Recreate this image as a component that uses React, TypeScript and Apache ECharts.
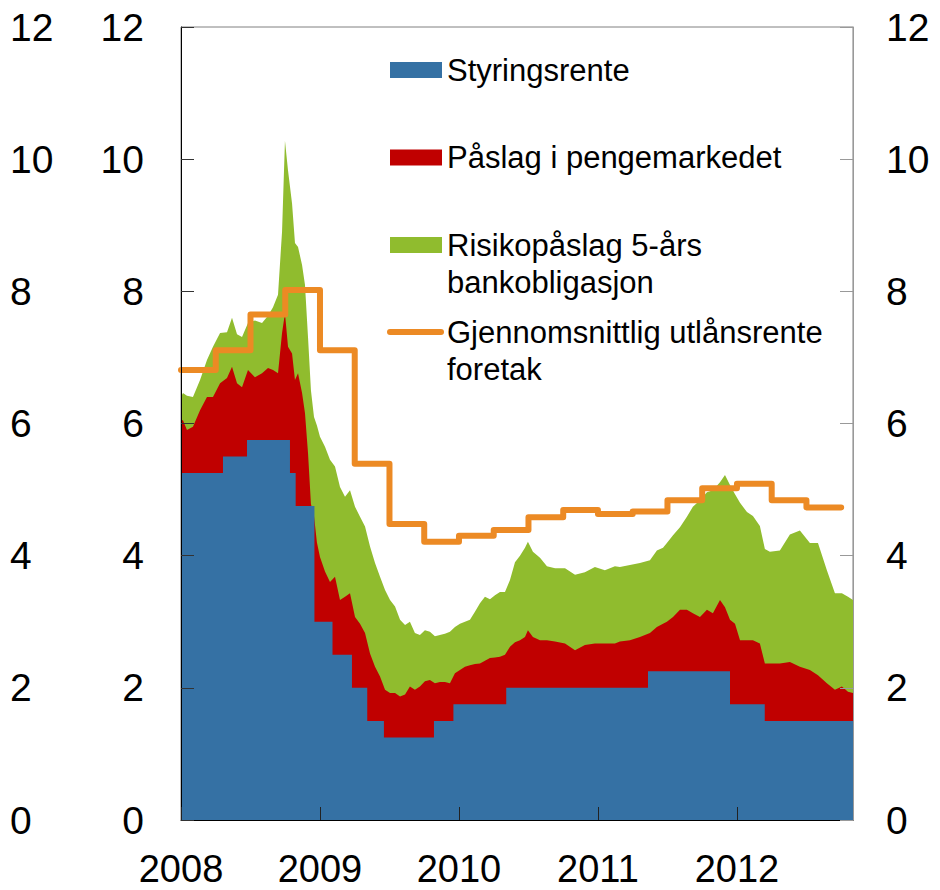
import React, { useEffect, useRef } from "react";
import * as echarts from "echarts";

// Decimal-year dates for the market-rate series
const dates = [
  2008.0, 2008.014, 2008.043, 2008.086, 2008.137, 2008.187, 2008.23, 2008.281, 2008.331, 2008.367,
  2008.403, 2008.439, 2008.482, 2008.532, 2008.583, 2008.626, 2008.662, 2008.698, 2008.727, 2008.748,
  2008.77, 2008.799, 2008.82, 2008.842, 2008.871, 2008.892, 2008.914, 2008.935, 2008.957, 2008.978,
  2009.0, 2009.036, 2009.072, 2009.108, 2009.144, 2009.18, 2009.216, 2009.252, 2009.288, 2009.324,
  2009.36, 2009.396, 2009.432, 2009.468, 2009.504, 2009.54, 2009.576, 2009.612, 2009.647, 2009.683,
  2009.719, 2009.755, 2009.791, 2009.827, 2009.863, 2009.899, 2009.935, 2009.971, 2010.007, 2010.043,
  2010.079, 2010.115, 2010.151, 2010.187, 2010.223, 2010.259, 2010.295, 2010.331, 2010.367, 2010.403,
  2010.439, 2010.475, 2010.496, 2010.532, 2010.583, 2010.633, 2010.691, 2010.763, 2010.835, 2010.906,
  2010.978, 2011.05, 2011.122, 2011.158, 2011.23, 2011.302, 2011.374, 2011.424, 2011.468, 2011.496,
  2011.54, 2011.59, 2011.64, 2011.683, 2011.734, 2011.784, 2011.827, 2011.878, 2011.914, 2011.95,
  2011.986, 2012.022, 2012.072, 2012.115, 2012.165, 2012.201, 2012.237, 2012.309, 2012.381, 2012.453,
  2012.525, 2012.583, 2012.647, 2012.705, 2012.755, 2012.799, 2012.835,
];

// Top of the green area (policy rate + money market premium + 5y bank bond premium)
const bondYield = [
  6.4, 6.46, 6.42, 6.4, 6.66, 6.96, 7.16, 7.37, 7.38, 7.6,
  7.35, 7.31, 7.52, 7.56, 7.52, 7.63, 7.76, 7.95, 8.9, 10.28,
  9.83, 9.33, 8.73, 8.67, 8.4, 8.1, 7.3, 6.5, 6.1, 5.97,
  5.8, 5.65, 5.45, 5.35, 5.04, 4.89, 4.99, 4.74, 4.59, 4.44,
  4.14, 3.89, 3.68, 3.48, 3.33, 3.23, 3.03, 2.95, 3.0, 2.83,
  2.8, 2.87, 2.85, 2.78, 2.8, 2.82, 2.85, 2.92, 2.97, 3.0,
  3.03, 3.15, 3.28, 3.38, 3.34, 3.4, 3.45, 3.45, 3.63, 3.9,
  4.0, 4.12, 4.21, 4.06, 3.97, 3.84, 3.81, 3.81, 3.71, 3.75,
  3.83, 3.78, 3.84, 3.83, 3.86, 3.89, 3.93, 4.08, 4.12, 4.19,
  4.31, 4.43, 4.59, 4.74, 4.84, 4.96, 4.99, 5.11, 5.22, 5.07,
  4.93, 4.8, 4.66, 4.6, 4.45, 4.1, 4.06, 4.08, 4.32, 4.38,
  4.19, 4.19, 3.78, 3.43, 3.43, 3.38, 3.33,
];

// Top of the red area (policy rate + money market premium)
const moneyMarketRate = [
  6.05, 6.05, 5.9, 5.95, 6.2, 6.4, 6.4, 6.61, 6.69, 6.86,
  6.61, 6.55, 6.81, 6.7, 6.76, 6.84, 6.81, 6.76, 7.37, 7.67,
  7.16, 7.06, 6.66, 6.76, 6.46, 6.16, 5.55, 4.78, 4.6, 4.2,
  3.98, 3.76, 3.6, 3.68, 3.33, 3.38, 3.43, 3.07, 2.97, 2.83,
  2.52, 2.32, 2.17, 1.97, 1.92, 1.92, 1.87, 1.9, 2.02, 1.97,
  2.02, 2.1, 2.12, 2.07, 2.09, 2.09, 2.07, 2.22, 2.27, 2.32,
  2.34, 2.36, 2.37, 2.41, 2.45, 2.46, 2.47, 2.5, 2.62, 2.69,
  2.72, 2.77, 2.87, 2.77, 2.72, 2.72, 2.7, 2.67, 2.57, 2.65,
  2.67, 2.67, 2.67, 2.7, 2.72, 2.77, 2.83, 2.92, 2.97, 3.0,
  3.07, 3.18, 3.18, 3.13, 3.07, 3.18, 3.13, 3.33, 3.22, 3.03,
  2.97, 2.72, 2.72, 2.72, 2.67, 2.37, 2.37, 2.37, 2.39, 2.32,
  2.27, 2.19, 2.07, 1.97, 2.02, 1.94, 1.92,
];

// Policy rate (step changes)
const policyDates = [
  2008.0, 2008.302, 2008.475, 2008.784, 2008.825, 2008.96, 2009.09, 2009.23, 2009.34,
  2009.46, 2009.82, 2009.96, 2010.34, 2011.36, 2011.95, 2012.2, 2012.835,
];
const policyRate = [
  5.25, 5.5, 5.75, 5.25, 4.75, 3.0, 2.5, 2.0, 1.5,
  1.25, 1.5, 1.75, 2.0, 2.25, 1.75, 1.5, 1.5,
];

// Average lending rate to enterprises (quarterly)
const lendingDates = [
  2008.0, 2008.25, 2008.5, 2008.75, 2009.0, 2009.25, 2009.5, 2009.75, 2010.0, 2010.25,
  2010.5, 2010.75, 2011.0, 2011.25, 2011.5, 2011.75, 2012.0, 2012.25, 2012.5, 2012.75,
];
const lendingRate = [
  6.81, 7.11, 7.65, 8.02, 7.11, 5.39, 4.48, 4.21, 4.3, 4.39,
  4.58, 4.69, 4.63, 4.67, 4.84, 5.02, 5.09, 4.84, 4.73, 4.73,
];

const yearTicks = ["2008", "2009", "2010", "2011", "2012"];

const BLUE = "#3571A4";
const RED = "#C00000";
const GREEN = "#90BC2E";
const ORANGE = "#EC8A24";
const FONT = "'Liberation Sans', Arial, sans-serif";

const legendItems = [
  { name: "Styringsrente", lines: ["Styringsrente"], color: BLUE, kind: "rect", cy: 70 },
  { name: "Påslag i pengemarkedet", lines: ["Påslag i pengemarkedet"], color: RED, kind: "rect", cy: 157.5 },
  { name: "Risikopåslag 5-års bankobligasjon", lines: ["Risikopåslag 5-års", "bankobligasjon"], color: GREEN, kind: "rect", cy: 245 },
  { name: "Gjennomsnittlig utlånsrente foretak", lines: ["Gjennomsnittlig utlånsrente", "foretak"], color: ORANGE, kind: "line", cy: 332 },
];

export default function App() {
  const ref = useRef<HTMLDivElement>(null);

  useEffect(() => {
    if (!ref.current) return;
    const chart = echarts.init(ref.current, undefined, { renderer: "svg" });

    const graphics: any[] = [];
    legendItems.forEach((it) => {
      if (it.kind === "rect") {
        graphics.push({
          type: "rect",
          shape: { x: 390, y: it.cy - 8, width: 52, height: 16 },
          style: { fill: it.color },
        });
      } else {
        graphics.push({
          type: "line",
          shape: { x1: 390, y1: it.cy, x2: 441, y2: it.cy },
          style: { stroke: it.color, lineWidth: 6, lineCap: "round" },
        });
      }
      it.lines.forEach((ln, k) => {
        graphics.push({
          type: "text",
          x: 447,
          y: it.cy + k * 37,
          style: {
            text: ln,
            fontSize: 31,
            fontFamily: FONT,
            fill: "#000",
            align: "left",
            verticalAlign: "middle",
          },
        });
      });
    });

    const labelBase = { fontSize: 39, fontFamily: FONT, color: "#000" };

    chart.setOption({
      animation: false,
      grid: {
        left: 181,
        right: 87,
        top: 27,
        bottom: 70,
        show: true,
        borderColor: "#808080",
        borderWidth: 1,
        backgroundColor: "transparent",
      },
      xAxis: {
        type: "value",
        min: 2008,
        max: 2012.835,
        interval: 1,
        z: 5,
        axisLine: { lineStyle: { color: "#000", width: 1 } },
        axisTick: { inside: true, length: 13, lineStyle: { color: "#222" } },
        splitLine: { show: false },
        axisLabel: {
          ...labelBase,
          fontSize: 38,
          margin: 30,
          showMaxLabel: false,
          formatter: (v: number) => {
            const s = String(Math.round(v));
            return Math.abs(v - Math.round(v)) < 1e-6 && yearTicks.includes(s) ? s : "";
          },
        },
      },
      yAxis: [
        {
          type: "value",
          min: 0,
          max: 12,
          interval: 2,
          position: "left",
          z: 5,
          axisLine: { show: true, lineStyle: { color: "#000", width: 1 } },
          axisTick: { show: true, inside: true, length: 13, lineStyle: { color: "#333" } },
          splitLine: { show: false },
          axisLabel: { ...labelBase, margin: 37 },
        },
        {
          type: "value",
          min: 0,
          max: 12,
          interval: 2,
          position: "right",
          z: 5,
          axisLine: { show: true, lineStyle: { color: "#999", width: 1 } },
          axisTick: { show: true, inside: true, length: 13, lineStyle: { color: "#999" } },
          splitLine: { show: false },
          axisLabel: { ...labelBase, margin: 33 },
        },
        {
          type: "value",
          min: 0,
          max: 12,
          interval: 2,
          position: "left",
          z: 5,
          axisLine: { show: false },
          axisTick: { show: false },
          splitLine: { show: false },
          axisLabel: { ...labelBase, margin: 171, align: "left" },
        },
      ],
      series: [
        {
          name: "Risikopåslag 5-års bankobligasjon",
          type: "line",
          data: dates.map((d, i) => [d, bondYield[i]]),
          showSymbol: false,
          lineStyle: { width: 0, opacity: 0 },
          itemStyle: { color: GREEN },
          areaStyle: { color: GREEN, opacity: 1 },
          z: 2,
        },
        {
          name: "Påslag i pengemarkedet",
          type: "line",
          data: dates.map((d, i) => [d, moneyMarketRate[i]]),
          showSymbol: false,
          lineStyle: { width: 0, opacity: 0 },
          itemStyle: { color: RED },
          areaStyle: { color: RED, opacity: 1 },
          z: 2,
        },
        {
          name: "Styringsrente",
          type: "line",
          step: "end",
          data: policyDates.map((d, i) => [d, policyRate[i]]),
          showSymbol: false,
          lineStyle: { width: 0, opacity: 0 },
          itemStyle: { color: BLUE },
          areaStyle: { color: BLUE, opacity: 1 },
          z: 2,
        },
        {
          name: "Gjennomsnittlig utlånsrente foretak",
          type: "line",
          step: "end",
          data: lendingDates.map((d, i) => [d, lendingRate[i]]),
          showSymbol: false,
          lineStyle: { width: 6, color: ORANGE, cap: "round", join: "round" },
          itemStyle: { color: ORANGE },
          z: 3,
        },
      ],
      graphic: graphics,
    });

    return () => chart.dispose();
  }, []);

  return (
    <div
      ref={ref}
      style={{ position: "fixed", left: 0, top: 0, width: 940, height: 890, background: "#fff" }}
    />
  );
}
